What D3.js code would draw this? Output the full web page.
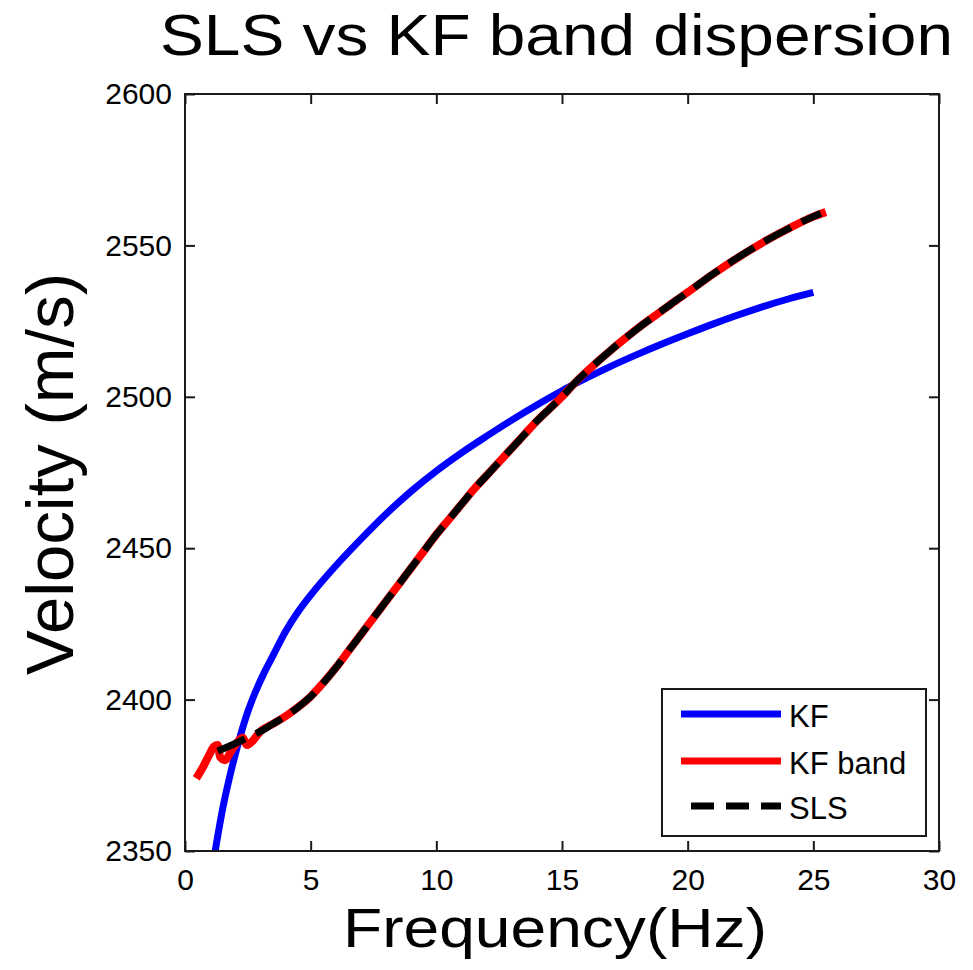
<!DOCTYPE html>
<html>
<head>
<meta charset="utf-8">
<script src="https://cdn.jsdelivr.net/npm/d3@7/dist/d3.min.js"></script>
<style>
  html, body { margin: 0; padding: 0; background: #fff; }
  svg { display: block; }
  text { font-family: "Liberation Sans", Arial, Helvetica, sans-serif; fill: #000; }
</style>
</head>
<body>
<svg id="chart" width="973" height="970"></svg>
<script>
// Frequency (Hz) / phase velocity (m/s) samples for each model
const kfFreq = [1.2, 1.5, 1.85, 2.2, 2.5, 2.8, 3.1, 3.5, 4.0, 4.5, 5.0, 6.0, 7.0, 8.0, 9.0, 10.0, 11.0, 12.0, 13.0, 14.0, 15.0, 16.0, 17.0, 18.0, 19.0, 20.0, 21.0, 22.0, 23.0, 24.0, 25.0];
const kfVel  = [2350, 2364, 2377, 2388, 2396, 2402.5, 2408, 2414.5, 2422.5, 2429, 2434.5, 2444.2, 2453, 2461.3, 2468.8, 2475.5, 2481.5, 2487, 2492.3, 2497.3, 2502, 2506.3, 2510.3, 2514, 2517.5, 2520.8, 2524, 2527, 2529.8, 2532.3, 2534.5];

const bandFreq = [0.45, 0.7, 0.95, 1.15, 1.3, 1.4, 1.6, 1.8, 2.0, 2.3, 2.45, 2.65, 3.0, 3.5, 4.0, 4.5, 5.0, 5.5, 6.0, 6.5, 7.0, 7.5, 8.0, 8.5, 9.0, 9.5, 10.0, 10.5, 11.0, 11.5, 12.0, 12.5, 13.0, 13.5, 14.0, 14.5, 15.0, 15.5, 16.0, 16.5, 17.0, 17.5, 18.0, 18.5, 19.0, 19.5, 20.0, 21.0, 22.0, 23.0, 24.0, 25.0, 25.5];
const bandVel  = [2374, 2377.5, 2381.5, 2384.5, 2385, 2381, 2380, 2382.5, 2385, 2387.5, 2385, 2386, 2389.5, 2392, 2394.5, 2397.5, 2401, 2405.5, 2410.5, 2416, 2421.5, 2427, 2432.5, 2438, 2443.5, 2449, 2454.5, 2459.5, 2464.5, 2469.5, 2474, 2478.5, 2483, 2487.5, 2492, 2496, 2500, 2504.5, 2508.5, 2512.2, 2515.8, 2519.2, 2522.5, 2525.6, 2528.6, 2531.6, 2534.5, 2540.5, 2546, 2551, 2555.5, 2559.5, 2561];

const slsFreq = [1.3, 2.0, 2.5, 3.0, 3.5, 4.0, 4.5, 5.0, 5.5, 6.0, 6.5, 7.0, 7.5, 8.0, 8.5, 9.0, 9.5, 10.0, 10.5, 11.0, 11.5, 12.0, 12.5, 13.0, 13.5, 14.0, 14.5, 15.0, 15.5, 16.0, 16.5, 17.0, 17.5, 18.0, 18.5, 19.0, 19.5, 20.0, 21.0, 22.0, 23.0, 24.0, 25.0, 25.3];
const slsVel  = [2383, 2385.5, 2387.5, 2389.5, 2392, 2394.5, 2397.5, 2401, 2405.5, 2410.5, 2416, 2421.5, 2427, 2432.5, 2438, 2443.5, 2449, 2454.5, 2459.5, 2464.5, 2469.5, 2474, 2478.5, 2483, 2487.5, 2492, 2496, 2500, 2504.5, 2508.5, 2512.2, 2515.8, 2519.2, 2522.5, 2525.6, 2528.6, 2531.6, 2534.5, 2540.5, 2546, 2551, 2555.5, 2559.5, 2560.5];

const xTicks = [0, 5, 10, 15, 20, 25, 30];
const yTicks = [2350, 2400, 2450, 2500, 2550, 2600];

const seriesNames  = ["KF", "KF band", "SLS"];
const seriesColors = ["#0000ff", "#ff0000", "#000000"];

const titleText = "SLS vs KF band dispersion";
const xLabel = "Frequency(Hz)";
const yLabel = "Velocity (m/s)";

// Layout
const plot = { left: 185, right: 939, top: 94, bottom: 851 };
const svg = d3.select("#chart");

const x = d3.scaleLinear().domain([0, 30]).range([plot.left, plot.right]);
const y = d3.scaleLinear().domain([2350, 2600]).range([plot.bottom, plot.top]);

svg.append("defs").append("clipPath").attr("id", "plotClip")
  .append("rect")
  .attr("x", plot.left).attr("y", plot.top)
  .attr("width", plot.right - plot.left).attr("height", plot.bottom - plot.top);

const line = d3.line()
  .x(d => x(d[0]))
  .y(d => y(d[1]))
  .curve(d3.curveMonotoneX);

const zip = (a, b) => a.map((v, i) => [v, b[i]]);

const curves = svg.append("g").attr("clip-path", "url(#plotClip)");

curves.append("path")
  .datum(zip(kfFreq, kfVel))
  .attr("d", line)
  .attr("fill", "none")
  .attr("stroke", seriesColors[0])
  .attr("stroke-width", 7)
  .attr("stroke-linejoin", "round");

curves.append("path")
  .datum(zip(bandFreq, bandVel))
  .attr("d", line)
  .attr("fill", "none")
  .attr("stroke", seriesColors[1])
  .attr("stroke-width", 8)
  .attr("stroke-linejoin", "round");

curves.append("path")
  .datum(zip(slsFreq, slsVel))
  .attr("d", line)
  .attr("fill", "none")
  .attr("stroke", seriesColors[2])
  .attr("stroke-width", 7)
  .attr("stroke-dasharray", "30,12");

// Axes box with inward ticks on all sides
const axisColor = "#1a1a1a";
const tickLen = 10;
const fmt = d3.format("d");

const axBottom = d3.axisBottom(x).tickValues(xTicks).tickSizeInner(-tickLen).tickSizeOuter(0).tickPadding(18).tickFormat(fmt);
const axTop = d3.axisTop(x).tickValues(xTicks).tickSizeInner(-tickLen).tickSizeOuter(0).tickFormat("");
const axLeft = d3.axisLeft(y).tickValues(yTicks).tickSizeInner(-tickLen).tickSizeOuter(0).tickPadding(13).tickFormat(fmt);
const axRight = d3.axisRight(y).tickValues(yTicks).tickSizeInner(-tickLen).tickSizeOuter(0).tickFormat("");

function styleAxis(g) {
  g.select(".domain").remove();
  g.selectAll(".tick line").attr("stroke", axisColor).attr("stroke-width", 2);
  g.selectAll(".tick text")
    .attr("fill", "#000")
    .style("font-family", "'Liberation Sans', Arial, sans-serif")
    .style("font-size", "30px");
}

svg.append("g").attr("transform", `translate(0,${plot.bottom})`).call(axBottom).call(styleAxis);
svg.append("g").attr("transform", `translate(0,${plot.top})`).call(axTop).call(styleAxis);
svg.append("g").attr("transform", `translate(${plot.left},0)`).call(axLeft).call(styleAxis);
svg.append("g").attr("transform", `translate(${plot.right},0)`).call(axRight).call(styleAxis);

svg.append("rect")
  .attr("x", plot.left).attr("y", plot.top)
  .attr("width", plot.right - plot.left).attr("height", plot.bottom - plot.top)
  .attr("fill", "none").attr("stroke", axisColor).attr("stroke-width", 2);

// Title and axis labels
svg.append("text")
  .attr("x", 160).attr("y", 55)
  .attr("textLength", 793).attr("lengthAdjust", "spacingAndGlyphs")
  .style("font-size", "58px")
  .text(titleText);

svg.append("text")
  .attr("x", 343).attr("y", 947)
  .attr("textLength", 424).attr("lengthAdjust", "spacingAndGlyphs")
  .style("font-size", "55px")
  .text(xLabel);

svg.append("text")
  .attr("transform", "translate(73,675) rotate(-90)")
  .attr("x", 0).attr("y", 0)
  .attr("textLength", 402).attr("lengthAdjust", "spacingAndGlyphs")
  .style("font-size", "66px")
  .text(yLabel);

// Legend
const legend = svg.append("g");
legend.append("rect")
  .attr("x", 662).attr("y", 689).attr("width", 264).attr("height", 147)
  .attr("fill", "#fff").attr("stroke", axisColor).attr("stroke-width", 2);

const legendRowsY = [714, 761, 806];
const legendDash = [null, null, "23,12"];
const legendWidth = [7, 7, 7];

seriesNames.forEach((name, i) => {
  const ly = legendRowsY[i];
  legend.append("line")
    .attr("x1", i === 2 ? 691 : 681).attr("x2", 781)
    .attr("y1", ly).attr("y2", ly)
    .attr("stroke", seriesColors[i])
    .attr("stroke-width", legendWidth[i])
    .attr("stroke-dasharray", legendDash[i]);
  legend.append("text")
    .attr("x", 789).attr("y", ly + 13)
    .style("font-size", "31px")
    .text(name);
});
</script>
</body>
</html>
